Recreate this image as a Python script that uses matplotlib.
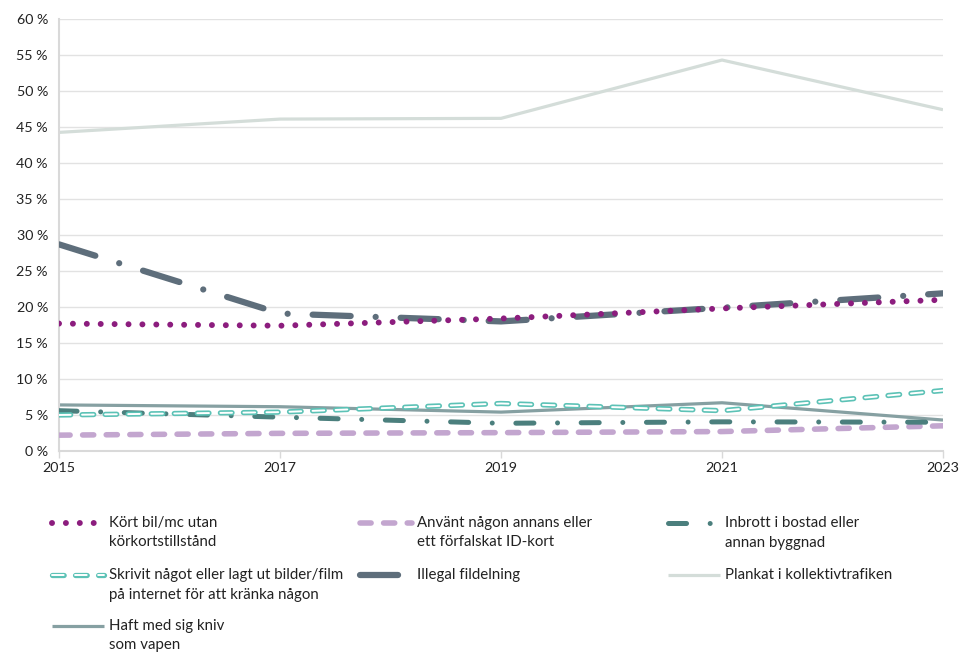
import matplotlib
matplotlib.use("Agg")
import matplotlib.pyplot as plt
from matplotlib.lines import Line2D
from matplotlib.ticker import FuncFormatter

plt.rcParams['font.family'] = ['Lato', 'DejaVu Sans']
plt.rcParams['lines.scale_dashes'] = False

# Andel (%) per år
years = [2015, 2017, 2019, 2021, 2023]
kort_bil = [17.7, 17.4, 18.4, 19.8, 21.0]
anvant_id = [2.2, 2.45, 2.55, 2.7, 3.5]
inbrott = [5.6, 4.7, 3.85, 4.05, 4.0]
skrivit = [5.0, 5.4, 6.6, 5.6, 8.4]
illegal = [28.7, 19.1, 18.0, 19.9, 21.9]
plankat = [44.25, 46.1, 46.2, 54.3, 47.4]
kniv = [6.4, 6.15, 5.4, 6.7, 4.3]

labels = [
    "Kört bil/mc utan\nkörkortstillstånd",
    "Använt någon annans eller\nett förfalskat ID-kort",
    "Inbrott i bostad eller\nannan byggnad",
    "Skrivit något eller lagt ut bilder/film\npå internet för att kränka någon",
    "Illegal fildelning",
    "Plankat i kollektivtrafiken",
    "Haft med sig kniv\nsom vapen",
]

# linjestilar (en eller flera lager per serie)
styles = {
    "kort": [dict(color="#8C1D7E", lw=4.3, dashes=(0.01, 10), dash_capstyle="round", zorder=6)],
    "anvant": [dict(color="#C3A6CF", lw=4.0, dashes=(8, 9), dash_capstyle="round", zorder=3)],
    "inbrott": [dict(color="#4B7F7D", lw=3.6, dashes=(13, 17, 0.01, 17), dash_capstyle="round", zorder=3)],
    "skrivit": [dict(color="#5CC2B6", lw=3.8, dashes=(8.4, 8.2), dash_capstyle="round", zorder=4),
                dict(color="white", lw=1.4, dashes=(8.4, 8.2), dash_capstyle="round", zorder=4.1)],
    "illegal": [dict(color="#5E6E7B", lw=4.5, dashes=(27.4, 18, 0.01, 18), dash_capstyle="round", zorder=5)],
    "plankat": [dict(color="#D4DDD9", lw=2.3, solid_capstyle="butt", zorder=2)],
    "kniv": [dict(color="#86A0A2", lw=2.3, solid_capstyle="butt", zorder=2)],
}
series = [
    ("kort", kort_bil), ("anvant", anvant_id), ("inbrott", inbrott),
    ("skrivit", skrivit), ("illegal", illegal), ("plankat", plankat), ("kniv", kniv),
]

W, H = 962, 652
fig = plt.figure(figsize=(W / 100, H / 100), dpi=100)
ax = fig.add_axes([59 / W, 1 - 451 / H, (943 - 59) / W, (451 - 19) / H])

for key, vals in series:
    for st in styles[key]:
        ax.plot(years, vals, **st)

ax.set_xlim(2015, 2023)
ax.set_ylim(0, 60)
ax.set_xticks(years)
ax.set_yticks(range(0, 61, 5))
ax.yaxis.set_major_formatter(FuncFormatter(lambda v, p: f"{int(v)} %"))
ax.yaxis.grid(True, color="#E2E2E2", lw=1.0, zorder=0)
ax.set_axisbelow(True)
for s in ["top", "right"]:
    ax.spines[s].set_visible(False)
ax.spines["left"].set_color("#D9D9D9")
ax.spines["left"].set_linewidth(1.5)
ax.spines["bottom"].set_color("#D9D9D9")
ax.spines["bottom"].set_linewidth(1.5)
ax.tick_params(axis="y", length=0, pad=8, labelsize=10.3, labelcolor="#222222")
ax.tick_params(axis="x", length=5, width=1, color="#D9D9D9", pad=3, labelsize=10.3, labelcolor="#222222")

# förklaring under diagrammet, 3 kolumner
col_x = [52, 360, 668]
row_y = [523, 575, 626]
for i, (key, vals) in enumerate(series):
    x0 = col_x[i % 3]
    y = row_y[i // 3]
    for st in styles[key]:
        st2 = {k: v for k, v in st.items() if k != "zorder"}
        fig.add_artist(Line2D([x0 / W, (x0 + 52) / W], [1 - y / H] * 2,
                              transform=fig.transFigure, **st2))
    fig.text((x0 + 57) / W, 1 - (y - 7) / H, labels[i], ha="left", va="top",
             fontsize=10.8, color="#222222", linespacing=1.5)

fig.savefig("out.png", dpi=100)
